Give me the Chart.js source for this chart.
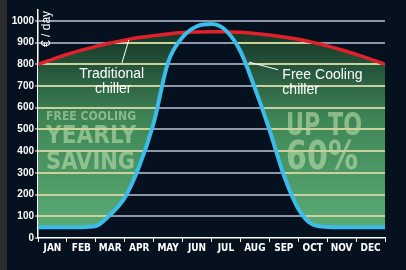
<!DOCTYPE html>
<html>
<head>
<meta charset="utf-8">
<script src="https://cdn.jsdelivr.net/npm/chart.js@4.4.0/dist/chart.umd.min.js"></script>
<style>
  html, body { margin: 0; padding: 0; background: #06111f; }
</style>
</head>
<body>
<canvas id="myChart" width="406" height="270"></canvas>
<script>
// Month labels on the x axis
const months = ['JAN', 'FEB', 'MAR', 'APR', 'MAY', 'JUN', 'JUL', 'AUG', 'SEP', 'OCT', 'NOV', 'DEC'];

// Position in months (0 = start of JAN, 12 = end of DEC), one reading every half month
const positions = [0, 0.5, 1, 1.5, 2, 2.5, 3, 3.5, 4, 4.5, 5, 5.5, 6,
                   6.5, 7, 7.5, 8, 8.5, 9, 9.5, 10, 10.5, 11, 11.5, 12];

// Cost in € / day
const traditionalChiller = [800, 823, 845, 865, 882, 898, 911, 923, 932, 940, 946, 949, 950,
                            950, 947, 942, 935, 926, 915, 901, 885, 866, 846, 824, 800];
const freeCoolingChiller = [50, 50, 50, 50, 55, 108, 185, 330, 530, 810, 925, 975, 985,
                            955, 860, 690, 500, 290, 135, 62, 51, 50, 50, 50, 50];

const sans = "'Liberation Sans', Arial, sans-serif";
const numFont = "'Liberation Sans Narrow', 'Liberation Sans', sans-serif";
const monthFont = "'Liberation Sans Narrow', 'DejaVu Sans Condensed', sans-serif";
const heavy = "'DejaVu Sans', sans-serif";

function toPoints(values) {
    return positions.map((p, i) => ({ x: p, y: values[i] }));
}

function alignPixel(pixel, width) {
    const half = Math.max(width / 2, 0.5);
    return Math.round(pixel - half) + half;
}

// Dark page background with the grey strip on the left
const backdrop = {
    id: 'backdrop',
    beforeDraw(chart) {
        const { ctx, width, height } = chart;
        ctx.save();
        ctx.fillStyle = '#06111f';
        ctx.fillRect(0, 0, width, height);
        ctx.fillStyle = '#2a2b2b';
        ctx.fillRect(0, 0, 7, height);
        ctx.restore();
    }
};

// Watermark text and light grid lines inside the green saving area
const savingArea = {
    id: 'savingArea',
    beforeDatasetsDraw(chart) {
        const { ctx, chartArea: a, scales: { x, y } } = chart;
        const at = (u, v) => [x.getPixelForValue(u), y.getPixelForValue(v)];

        ctx.save();
        ctx.fillStyle = 'rgba(200, 232, 180, 0.55)';
        ctx.textAlign = 'left';
        ctx.textBaseline = 'alphabetic';
        const wm = (text, u, v, size, maxW) => {
            const [px, py] = at(u, v);
            ctx.font = `bold ${size}px ${heavy}`;
            ctx.fillText(text, px, py, maxW);
        };
        wm('FREE COOLING', 0.28, 544, 13, 90);
        wm('YEARLY', 0.28, 438, 25, 90);
        wm('SAVING', 0.28, 318, 25, 89);
        wm('UP TO', 8.58, 475, 32, 76);
        wm('60%', 8.58, 318, 39, 72);
        ctx.restore();

        const red = chart.getDatasetMeta(0).dataset;
        const blue = chart.getDatasetMeta(1).dataset;
        ctx.save();
        ctx.beginPath();
        red.path(ctx);
        ctx.lineTo(a.right, a.bottom);
        ctx.lineTo(a.left, a.bottom);
        ctx.closePath();
        blue.path(ctx);
        ctx.lineTo(a.right, a.bottom);
        ctx.lineTo(a.left, a.bottom);
        ctx.closePath();
        ctx.clip('evenodd');
        ctx.strokeStyle = '#c9d29c';
        ctx.lineWidth = 2;
        y.ticks.forEach(t => {
            if (t.value <= 0) return;
            const py = alignPixel(y.getPixelForValue(t.value), 2);
            ctx.beginPath();
            ctx.moveTo(a.left, py);
            ctx.lineTo(a.right, py);
            ctx.stroke();
        });
        ctx.restore();
    }
};

// Curve labels, leader lines and unit title
const labels = {
    id: 'labels',
    afterDatasetsDraw(chart) {
        const { ctx, scales: { x, y } } = chart;
        const at = (u, v) => [x.getPixelForValue(u), y.getPixelForValue(v)];

        ctx.save();
        ctx.strokeStyle = '#ffffff';
        ctx.lineWidth = 1;
        let p = at(2.9, 805), q = at(3.14, 912);
        ctx.beginPath(); ctx.moveTo(p[0], p[1]); ctx.lineTo(q[0], q[1]); ctx.stroke();
        p = at(7.3, 810); q = at(8.3, 775);
        ctx.beginPath(); ctx.moveTo(p[0], p[1]); ctx.lineTo(q[0], q[1]); ctx.stroke();

        ctx.fillStyle = '#ffffff';
        ctx.font = `14px ${sans}`;
        ctx.textBaseline = 'alphabetic';
        ctx.textAlign = 'center';
        let t = at(2.55, 737);
        ctx.fillText('Traditional', t[0], t[1]);
        t = at(2.6, 667);
        ctx.fillText('chiller', t[0], t[1]);
        ctx.textAlign = 'left';
        t = at(8.45, 733);
        ctx.fillText('Free Cooling', t[0], t[1]);
        t = at(8.45, 664);
        ctx.fillText('chiller', t[0], t[1]);

        t = at(0.3, 963);
        ctx.translate(t[0], t[1]);
        ctx.rotate(-Math.PI / 2);
        ctx.textAlign = 'center';
        ctx.textBaseline = 'middle';
        ctx.font = `12px ${sans}`;
        ctx.fillText('€ / day', 0, 0);
        ctx.restore();
    }
};

const ctx = document.getElementById('myChart').getContext('2d');
const myChart = new Chart(ctx, {
    type: 'line',
    data: {
        datasets: [{
            label: 'Traditional chiller',
            data: toPoints(traditionalChiller),
            borderColor: '#e2202c',
            borderWidth: 3.5,
            pointRadius: 0,
            cubicInterpolationMode: 'monotone',
            fill: { target: 1, below: 'rgba(0,0,0,0)' },
            backgroundColor: c => {
                const a = c.chart.chartArea;
                if (!a) return 'rgba(0,0,0,0)';
                const g = c.chart.ctx.createLinearGradient(0, a.top, 0, a.bottom);
                g.addColorStop(0, '#0d2418');
                g.addColorStop(0.24, '#24523a');
                g.addColorStop(0.48, '#3f8657');
                g.addColorStop(1, '#5dae77');
                return g;
            },
            order: 1
        }, {
            label: 'Free Cooling chiller',
            data: toPoints(freeCoolingChiller),
            borderColor: '#3cbcea',
            borderWidth: 4,
            pointRadius: 0,
            cubicInterpolationMode: 'monotone',
            fill: false,
            order: 0
        }]
    },
    options: {
        responsive: false,
        animation: false,
        layout: { padding: { top: 10, right: 21, left: 0, bottom: 0 } },
        plugins: {
            legend: { display: false },
            tooltip: { enabled: false },
            filler: { drawTime: 'beforeDatasetsDraw' }
        },
        scales: {
            x: {
                type: 'linear',
                min: 0,
                max: 12,
                afterFit: s => { s.height = 32; },
                ticks: {
                    stepSize: 0.5,
                    autoSkip: false,
                    maxRotation: 0,
                    color: '#ffffff',
                    padding: 0,
                    font: { family: monthFont, size: 10, weight: 'bold' },
                    callback: v => (v % 1 ? months[Math.floor(v)] : '')
                },
                grid: {
                    drawOnChartArea: false,
                    tickLength: 4,
                    tickWidth: 1,
                    tickColor: c => (c.tick && c.tick.value % 1 === 0 ? '#ffffff' : 'rgba(0,0,0,0)')
                },
                border: { color: '#ffffff', width: 1.5 }
            },
            y: {
                min: 0,
                max: 1050,
                afterFit: s => { s.width = 38; },
                ticks: {
                    stepSize: 100,
                    includeBounds: false,
                    color: '#ffffff',
                    padding: 1,
                    font: { family: numFont, size: 10, weight: 'bold' },
                    callback: v => String(v)
                },
                grid: {
                    lineWidth: 2,
                    color: c => (c.tick && c.tick.value === 0 ? 'rgba(0,0,0,0)' : '#8e97a9'),
                    tickLength: 3,
                    tickWidth: 1,
                    tickColor: '#ffffff'
                },
                border: { color: '#ffffff', width: 1.5 }
            }
        }
    },
    plugins: [backdrop, savingArea, labels]
});
</script>
</body>
</html>
